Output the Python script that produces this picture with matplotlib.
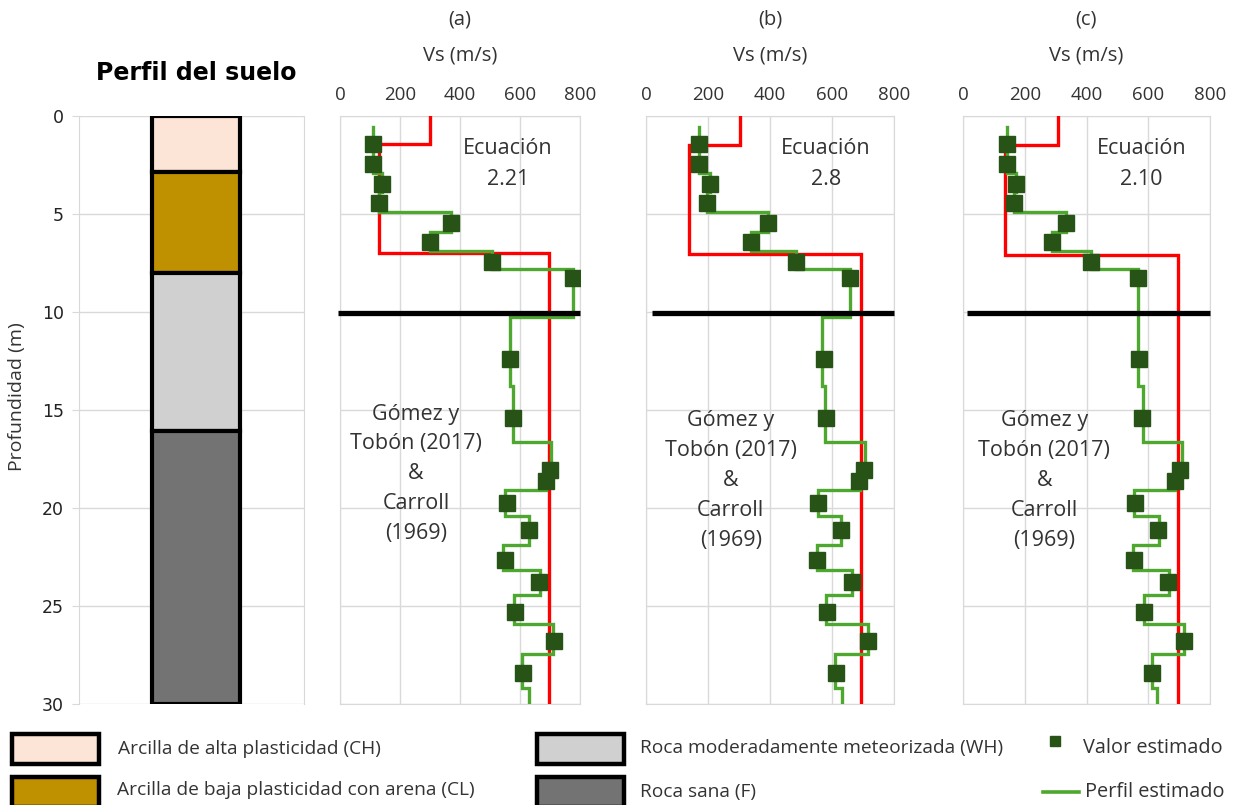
import matplotlib
matplotlib.use("Agg")
import matplotlib.pyplot as plt
from matplotlib.patches import Rectangle
from matplotlib.lines import Line2D

# ---------------- data ----------------
soil_names = ["Arcilla de alta plasticidad (CH)",
              "Arcilla de baja plasticidad con arena (CL)",
              "Roca moderadamente meteorizada (WH)",
              "Roca sana (F)"]
soil_tops = [0.0, 2.85, 8.0, 16.05]
soil_bottoms = [2.85, 8.0, 16.05, 30.0]
soil_colors = ["#FCE4D6", "#BF9000", "#D0D0D0", "#737373"]

panel_labels = ["(a)", "(b)", "(c)"]
equation_labels = ["Ecuación\n2.21", "Ecuación\n2.8", "Ecuación\n2.10"]
reference_label = "Gómez y\nTobón (2017)\n&\nCarroll\n(1969)"
vs_ticks = [0, 200, 400, 600, 800]
depth_ticks = [0, 5, 10, 15, 20, 25, 30]
interface_depth = 10.05

# estimated step profile (layer tops, last layer ends at 30 m)
profile_tops = [0.55, 1.9, 2.9, 3.9, 4.9, 5.9, 6.9, 7.8, 10.25, 13.8,
                16.65, 18.35, 19.1, 20.4, 21.9, 23.15, 24.45, 25.9, 27.45, 29.2]
profile_vs_a = [109, 109, 141, 131, 369, 300, 506, 778, 567, 576,
                702, 688, 550, 629, 544, 667, 581, 711, 608, 631]
profile_vs_b = [172, 172, 208, 196, 392, 338, 485, 657, 569, 578,
                708, 690, 555, 630, 552, 666, 582, 716, 611, 632]
profile_vs_c = [141, 141, 173, 164, 333, 287, 414, 567, 566, 584,
                708, 688, 553, 635, 549, 668, 586, 717, 613, 629]

# estimated values
point_depths = [1.45, 2.45, 3.45, 4.45, 5.45, 6.45, 7.45, 8.25, 12.4, 15.4,
                18.05, 18.6, 19.75, 21.1, 22.65, 23.8, 25.3, 26.8, 28.4]
point_vs_a = [109, 109, 141, 131, 369, 300, 506, 778, 567, 578,
              700, 687, 556, 630, 550, 663, 583, 713, 611]
point_vs_b = [172, 172, 208, 196, 392, 338, 485, 657, 573, 582,
              702, 686, 555, 630, 550, 666, 585, 716, 612]
point_vs_c = [141, 141, 173, 164, 333, 287, 414, 567, 571, 580,
              703, 686, 557, 630, 553, 665, 586, 717, 613]

# equation profiles (layer tops, last layer ends at 30 m)
eq_tops_a = [0.0, 1.45, 7.0]
eq_vs_a = [300, 131, 695]
eq_tops_b = [0.0, 1.5, 7.05]
eq_vs_b = [303, 140, 695]
eq_tops_c = [0.0, 1.5, 7.1]
eq_vs_c = [308, 137, 695]

# ---------------- style ----------------
W, H = 1239, 805
GRID = "#D9D9D9"
TXT = "#333333"
GREEN = "#4EA72E"
DARK = "#275317"
RED = "#FF0000"
FONT = ["Open Sans", "DejaVu Sans"]
plt.rcParams["font.family"] = FONT

fig = plt.figure(figsize=(W / 100, H / 100), dpi=100)


def px_axes(x0, y0, x1, y1, **kw):
    return fig.add_axes([x0 / W, 1 - y1 / H, (x1 - x0) / W, (y1 - y0) / H], **kw)


def step_path(tops, values, bottom=30.0):
    xs, ys = [], []
    ends = list(tops[1:]) + [bottom]
    for t, b, v in zip(tops, ends, values):
        xs += [v, v]
        ys += [t, b]
    return xs, ys


# ---------------- soil column ----------------
ax0 = px_axes(79, 116, 304, 704)
ax0.set_xlim(0, 1)
ax0.set_ylim(30, 0)
for t, b, c in zip(soil_tops, soil_bottoms, soil_colors):
    ax0.bar(0.52, b - t, bottom=t, width=0.39, color=c, edgecolor="black",
            linewidth=3.0, zorder=3)
ax0.set_yticks(depth_ticks)
ax0.set_yticklabels([str(d) for d in depth_ticks], family="DejaVu Sans",
                    fontsize=12.5, color="#222222")
ax0.set_xticks([])
ax0.grid(axis="y", color=GRID, linewidth=1.0, zorder=0)
ax0.tick_params(axis="y", length=5, color=GRID, pad=6)
for s in ["top", "bottom"]:
    ax0.spines[s].set_visible(False)
ax0.spines["left"].set_color(GRID)
ax0.spines["right"].set_color(GRID)
fig.text(196 / W, 1 - 73 / H, "Perfil del suelo", ha="center", va="center",
         family="DejaVu Sans", fontweight="bold", fontsize=17, color="black")
fig.text(17 / W, 1 - 397 / H, "Profundidad (m)", ha="center", va="center",
         rotation=90, fontsize=14, color=TXT)

# ---------------- Vs panels ----------------
panel_px = [(340, 580), (646, 894), (963, 1210)]
profiles = [profile_vs_a, profile_vs_b, profile_vs_c]
points = [point_vs_a, point_vs_b, point_vs_c]
equations = [(eq_tops_a, eq_vs_a), (eq_tops_b, eq_vs_b), (eq_tops_c, eq_vs_c)]
eq_text_x = [560, 580, 578]
ref_text_x = [253, 273, 263]
ref_text_y = [18.25, 18.6, 18.6]
black_x0 = [-7, 20, 12]

for i, (x0, x1) in enumerate(panel_px):
    ax = px_axes(x0, 116, x1, 704)
    ax.set_xlim(0, 800)
    ax.set_ylim(30, 0)
    ax.set_xticks(vs_ticks)
    ax.set_yticks(depth_ticks)
    ax.set_yticklabels([])
    ax.xaxis.tick_top()
    ax.tick_params(axis="x", length=0, pad=9, labelsize=13.5, labelcolor=TXT)
    ax.tick_params(axis="y", length=0)
    ax.grid(True, color=GRID, linewidth=1.0, zorder=0)
    for s in ax.spines.values():
        s.set_color(GRID)

    et, ev = equations[i]
    xs, ys = step_path(et, ev)
    ax.plot(xs, ys, color=RED, linewidth=2.4, zorder=3, solid_joinstyle="miter")

    xs, ys = step_path(profile_tops, profiles[i])
    ax.plot(xs, ys, color=GREEN, linewidth=2.4, zorder=4, solid_joinstyle="miter")
    ax.plot(points[i], point_depths, linestyle="none", marker="s",
            markersize=11.5, color=DARK, zorder=5)

    ax.plot([black_x0[i], 800], [interface_depth, interface_depth],
            color="black", linewidth=3.8, zorder=6, clip_on=False,
            solid_capstyle="butt")

    ax.text(eq_text_x[i], 2.45, equation_labels[i], ha="center", va="center",
            fontsize=15.5, color=TXT, linespacing=1.6, zorder=7)
    ax.text(ref_text_x[i], ref_text_y[i], reference_label, ha="center",
            va="center", fontsize=15.5, color=TXT, linespacing=1.55, zorder=7)

    cx = (x0 + x1) / 2
    fig.text(cx / W, 1 - 20 / H, panel_labels[i], ha="center", va="center",
             fontsize=14.5, color=TXT)
    fig.text(cx / W, 1 - 55 / H, "Vs (m/s)", ha="center", va="center",
             fontsize=14.5, color=TXT)

# ---------------- legend ----------------
lg = px_axes(0, 0, W, H)
lg.set_xlim(0, W)
lg.set_ylim(H, 0)
lg.axis("off")
legend_boxes = [(12, 734, soil_colors[0], soil_names[0], 118, 749),
                (12, 777, soil_colors[1], soil_names[1], 117, 790),
                (537, 734, soil_colors[2], soil_names[2], 640, 748),
                (537, 777, soil_colors[3], soil_names[3], 640, 792)]
for bx, by, c, name, tx, ty in legend_boxes:
    lg.add_patch(Rectangle((bx, by), 87, 30, facecolor=c, edgecolor="black",
                           linewidth=3.2, clip_on=False))
    lg.text(tx, ty, name, ha="left", va="center", fontsize=13.8, color=TXT)
lg.add_line(Line2D([1055], [741], marker="s", markersize=7, color=DARK,
                   linestyle="none"))
lg.text(1083, 748, "Valor estimado", ha="left", va="center", fontsize=14.3,
        color=TXT)
lg.add_line(Line2D([1043, 1079], [792, 792], color=GREEN, linewidth=2.6))
lg.text(1085, 792, "Perfil estimado", ha="left", va="center", fontsize=14.3,
        color=TXT)

fig.savefig("out.png", dpi=100)
